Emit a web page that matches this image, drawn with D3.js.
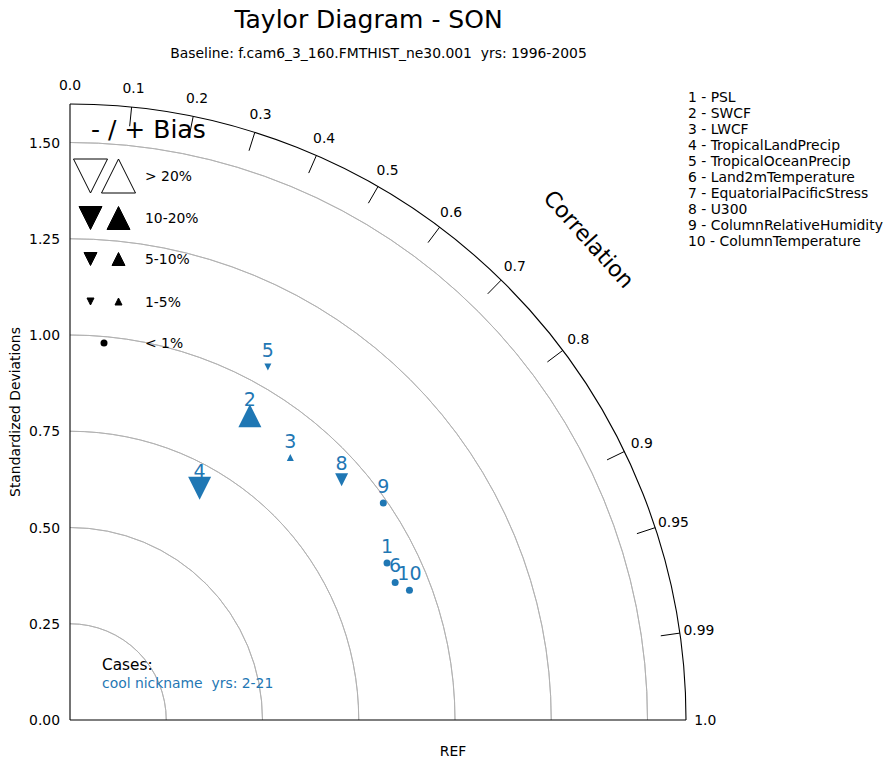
<!DOCTYPE html>
<html>
<head>
<meta charset="utf-8">
<script src="https://cdn.jsdelivr.net/npm/d3@7"></script>
<style>
  html, body { margin: 0; padding: 0; background: #fff; }
  svg text { font-family: "DejaVu Sans", sans-serif; white-space: pre; }
</style>
</head>
<body>
<div id="chart"></div>
<script>
// variables (7 has no point)
const varNames = ["PSL", "SWCF", "LWCF", "TropicalLandPrecip", "TropicalOceanPrecip",
  "Land2mTemperature", "EquatorialPacificStress", "U300", "ColumnRelativeHumidity", "ColumnTemperature"];
const stdDevs  = [0.919, 0.918, 0.890, 0.690, 1.051, 0.917, null, 0.942, 0.990, 0.944];
const corrs    = [0.896, 0.509, 0.643, 0.488, 0.489, 0.921, null, 0.749, 0.822, 0.934];
// bias class: sign (-1 / +1 / 0) and bin index into biasBins
const biasSign = [0, 1, 1, -1, -1, 0, null, -1, 0, 0];
const biasBin  = [4, 1, 3, 1, 3, 4, null, 2, 4, 4];
const biasBins = ["> 20%", "10-20%", "5-10%", "1-5%", "< 1%"];

const stdTicks  = [0, 0.25, 0.5, 0.75, 1.0, 1.25, 1.5];
const stdArcs   = [0.25, 0.5, 0.75, 1.0, 1.25, 1.5];
const corrTicks = [0, 0.1, 0.2, 0.3, 0.4, 0.5, 0.6, 0.7, 0.8, 0.9, 0.95, 0.99, 1.0];
const maxStd = 1.6;

const W = 893, H = 768;
const x0 = 70, y0 = 720;
const FONT = 13.9;
const blue = "#1f77b4";

const svg = d3.select("#chart").append("svg")
  .attr("width", W).attr("height", H);

// radial scale
const r = d3.scaleLinear().domain([0, maxStd]).range([0, 616]);
const px = (s, c) => x0 + r(s) * c;
const py = (s, c) => y0 - r(s) * Math.sin(Math.acos(c));

// triangle marker, half size h
function tri(h, up) {
  const p = d3.path();
  if (up) { p.moveTo(0, -h); p.lineTo(-h, h); p.lineTo(h, h); }
  else    { p.moveTo(0, h); p.lineTo(-h, -h); p.lineTo(h, -h); }
  p.closePath();
  return p.toString();
}
const binHalf = [17, 11.5, 6.5, 3.5];
const dotR = 3.5;

// grid arcs
const arc = d3.arc().startAngle(0).endAngle(Math.PI / 2);
svg.append("g").attr("transform", `translate(${x0},${y0})`)
  .selectAll("path").data(stdArcs).enter().append("path")
  .attr("d", d => arc({ innerRadius: r(d), outerRadius: r(d) }))
  .attr("fill", "none").attr("stroke", "#b0b0b0").attr("stroke-width", 0.9);

// outer arc
svg.append("path").attr("transform", `translate(${x0},${y0})`)
  .attr("d", arc({ innerRadius: r(maxStd), outerRadius: r(maxStd) }))
  .attr("fill", "none").attr("stroke", "#000").attr("stroke-width", 1.1);

// axes lines
svg.append("line").attr("x1", x0).attr("y1", y0).attr("x2", x0 + r(maxStd)).attr("y2", y0)
  .attr("stroke", "#000").attr("stroke-width", 1.1);
svg.append("line").attr("x1", x0).attr("y1", y0).attr("x2", x0).attr("y2", y0 - r(maxStd))
  .attr("stroke", "#000").attr("stroke-width", 1.1);

// std tick labels
svg.append("g").selectAll("text").data(stdTicks).enter().append("text")
  .attr("x", x0 - 10).attr("y", d => y0 - r(d) + 5)
  .attr("text-anchor", "end").attr("font-size", FONT)
  .text(d => d.toFixed(2));

// correlation ticks and labels
const ct = svg.append("g");
ct.selectAll("line").data(corrTicks.filter(c => c > 0 && c < 1)).enter().append("line")
  .attr("x1", c => px(maxStd, c)).attr("y1", c => py(maxStd, c))
  .attr("x2", c => px(maxStd - 0.05, c)).attr("y2", c => py(maxStd - 0.05, c))
  .attr("stroke", "#000").attr("stroke-width", 1);
ct.selectAll("text").data(corrTicks).enter().append("text")
  .attr("x", c => px(1.65, c)).attr("y", c => py(1.65, c) + 5)
  .attr("text-anchor", "middle").attr("font-size", FONT)
  .text(c => String(c).length < 3 ? c.toFixed(1) : String(c));

// axis titles
svg.append("text").attr("transform", "translate(589,239) rotate(48)")
  .attr("text-anchor", "middle").attr("dy", "0.35em").attr("font-size", 22.2)
  .text("Correlation");
svg.append("text").attr("transform", "translate(20,412) rotate(-90)")
  .attr("text-anchor", "middle").attr("font-size", FONT)
  .text("Standardized Deviations");
svg.append("text").attr("x", x0 + r(1.0) - 2).attr("y", 756)
  .attr("text-anchor", "middle").attr("font-size", FONT).text("REF");

// titles
svg.append("text").attr("x", 368.5).attr("y", 28).attr("text-anchor", "middle")
  .attr("font-size", 25).text("Taylor Diagram - SON");
svg.append("text").attr("x", 378.5).attr("y", 58).attr("text-anchor", "middle")
  .attr("font-size", FONT).text("Baseline: f.cam6_3_160.FMTHIST_ne30.001  yrs: 1996-2005");

// bias legend
svg.append("text").attr("x", 91).attr("y", 138).attr("font-size", 25).text("- / + Bias");
const leg = svg.append("g");
const legY = [176, 218, 259, 301.5, 343];
biasBins.forEach((lab, i) => {
  if (i < 4) {
    [false, true].forEach(up => {
      leg.append("path")
        .attr("transform", `translate(${up ? 118.5 : 90.5},${legY[i]})`)
        .attr("d", tri(binHalf[i], up))
        .attr("fill", i === 0 ? "none" : "#000")
        .attr("stroke", "#000").attr("stroke-width", 1);
    });
  } else {
    leg.append("circle").attr("cx", 104).attr("cy", legY[i]).attr("r", dotR).attr("fill", "#000");
  }
  leg.append("text").attr("x", 145).attr("y", legY[i] + 5).attr("font-size", FONT).text(lab);
});

// variable list
svg.append("g").selectAll("text").data(varNames).enter().append("text")
  .attr("x", 688).attr("y", (d, i) => 102 + i * 16.05)
  .attr("font-size", FONT)
  .text((d, i) => `${i + 1} - ${d}`);

// points
const pts = varNames.map((n, i) => ({ n, i, s: stdDevs[i], c: corrs[i], sign: biasSign[i], bin: biasBin[i] }))
  .filter(d => d.s != null);
const pg = svg.append("g");
pts.forEach(d => {
  const x = px(d.s, d.c), y = py(d.s, d.c);
  if (d.sign === 0) {
    pg.append("circle").attr("cx", x).attr("cy", y).attr("r", dotR).attr("fill", blue);
  } else {
    pg.append("path").attr("transform", `translate(${x},${y})`)
      .attr("d", tri(binHalf[d.bin], d.sign > 0)).attr("fill", blue);
  }
  pg.append("text").attr("x", x).attr("y", y - 10).attr("text-anchor", "middle")
    .attr("font-size", 19).attr("fill", blue).text(d.i + 1);
});

// cases
svg.append("text").attr("x", 102).attr("y", 670).attr("font-size", 15.3).text("Cases:");
svg.append("text").attr("x", 102).attr("y", 688).attr("font-size", FONT).attr("fill", blue)
  .text("cool nickname  yrs: 2-21");
</script>
</body>
</html>
